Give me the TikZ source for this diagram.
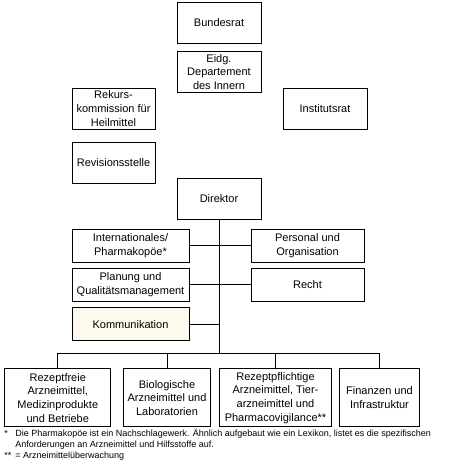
\documentclass[tikz,border=0pt]{standalone}
\usepackage{fontspec}
\setmainfont{Liberation Sans}
\usetikzlibrary{positioning}
\definecolor{cream}{RGB}{253,249,236}

\begin{document}
\begin{tikzpicture}[x=1pt, y=-1pt, on grid, line width=0.8pt,
  box/.style={draw, align=center, inner sep=1pt, font=\fontsize{11}{13.7}\selectfont},
  top/.style={box, minimum width=84pt, minimum height=41pt},
  staff/.style={box, minimum width=117pt, minimum height=33pt},
  dept/.style={box, minimum height=58pt},
  note/.style={anchor=base west, inner sep=0pt, font=\fontsize{9}{11}\selectfont}]
\useasboundingbox (0,0) rectangle (451,468);
% oversight
\node[top] (bund) at (219,22.8) {Bundesrat};
\node[top] (eidg) [below=49.2pt of bund] {Eidg.\\Departement\\des Innern};
\node[top, minimum width=83pt] (rekurs) at (113.5,108.5) {Rekurs-\\kommission für\\Heilmittel};
\node[top] (irat) [right=211.5pt of rekurs] {Institutsrat};
\node[top, minimum width=83pt] (rev) [below=54.5pt of rekurs] {Revisionsstelle};
\node[top] (dir) at (219,199) {Direktor};
% staff units
\node[staff] (intl) at (130.5,245.8) {Internationales/\\Pharmakopöe*};
\node[staff, minimum width=113pt] (pers) [right=177pt of intl] {Personal und\\Organisation};
\node[staff] (plan) [below=39pt of intl] {Planung und\\Qualitätsmanagement};
\node[staff, minimum width=113pt] (recht) [right=177pt of plan] {Recht};
\node[staff, fill=cream] (komm) [below=39.4pt of plan] {Kommunikation};
% divisions
\node[dept, minimum width=106pt] (otc) at (57.8,397.8) {Rezeptfreie\\Arzneimittel,\\Medizinprodukte\\und Betriebe};
\node[dept, minimum width=87pt] (bio) [right=109.2pt of otc] {Biologische\\Arzneimittel und\\Laboratorien};
\node[dept, minimum width=112pt] (rx) [right=108.5pt of bio] {Rezeptpflichtige\\Arzneimittel, Tier-\\arzneimittel und\\Pharmacovigilance**};
\node[dept, minimum width=80pt] (fin) [right=104pt of rx] {Finanzen und\\Infrastruktur};
\coordinate (bus) at (219,353.5);
\path[draw]
(dir) -- (bus)
(intl) -- (pers)
(plan) -- (recht)
(komm) -- (komm -| dir)
(otc) |- (bus) -| (fin)
(bio) -- (bio |- bus)
(rx) -- (rx |- bus);
% footnotes
\node[note] (s1) at (4,436) {*};
\node[note] (n1) at (15,436) {Die Pharmakopöe ist ein Nachschlagewerk. Ähnlich aufgebaut wie ein Lexikon, listet es die spezifischen};
\node[note] (n2) at (15,447.3) {Anforderungen an Arzneimittel und Hilfsstoffe auf.};
\node[note] (s2) at (4,458.7) {**};
\node[note] (n3) at (15,458.7) {= Arzneimittelüberwachung};
\end{tikzpicture}
\end{document}
